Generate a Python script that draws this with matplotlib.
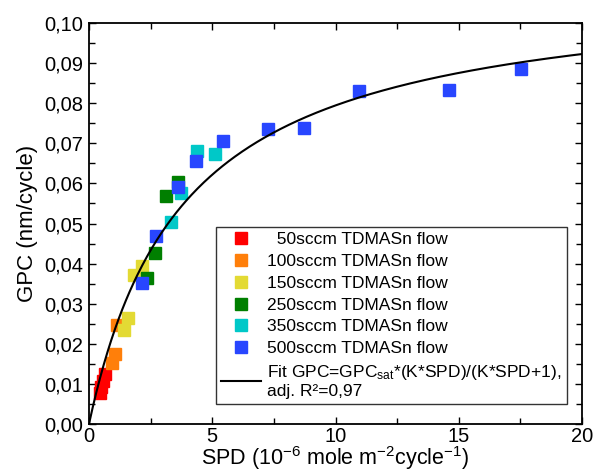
import numpy as np
import matplotlib
matplotlib.use("Agg")
import matplotlib.pyplot as plt
from matplotlib.ticker import MultipleLocator, FuncFormatter

plt.rcParams["font.family"] = ["Liberation Sans", "DejaVu Sans"]
plt.rcParams["mathtext.default"] = "regular"

# SPD (1e-6 mole m-2 cycle-1) and GPC (nm/cycle) for each TDMASn flow
spd_50 = [0.43, 0.47, 0.57, 0.65]
gpc_50 = [0.0077, 0.0092, 0.0107, 0.0125]
spd_100 = [0.93, 1.05, 1.14]
gpc_100 = [0.0152, 0.0175, 0.0247]
spd_150 = [1.42, 1.58, 1.83, 2.15]
gpc_150 = [0.0234, 0.0264, 0.0372, 0.0394]
spd_250 = [2.37, 2.68, 3.12, 3.62]
gpc_250 = [0.0363, 0.0426, 0.0569, 0.0604]
spd_350 = [3.31, 3.73, 4.39, 5.11]
gpc_350 = [0.0504, 0.0577, 0.0681, 0.0673]
spd_500 = [2.16, 2.72, 3.62, 4.34, 5.45, 7.27, 8.73, 10.95, 14.6, 17.51]
gpc_500 = [0.0351, 0.0469, 0.0590, 0.0656, 0.0706, 0.0736, 0.0739, 0.0830,
           0.0833, 0.0886]

labels = ["  50sccm TDMASn flow", "100sccm TDMASn flow", "150sccm TDMASn flow",
          "250sccm TDMASn flow", "350sccm TDMASn flow", "500sccm TDMASn flow"]
colors = ["#ff0000", "#ff7f0a", "#e3da34", "#007f00", "#00c8c8", "#2846ff"]

# Langmuir-type fit parameters
gpc_sat = 0.110
k_fit = 0.26

fig = plt.figure(figsize=(5.94, 4.75), dpi=100)
ax = fig.add_axes([89 / 594, 51 / 475, 493 / 594, 401 / 475])

series = [(spd_50, gpc_50), (spd_100, gpc_100), (spd_150, gpc_150),
          (spd_250, gpc_250), (spd_350, gpc_350), (spd_500, gpc_500)]
for (xs, ys), lab, c in zip(series, labels, colors):
    ax.plot(xs, ys, "s", ms=8.6, color=c, mec=c, label=lab, zorder=3)

xf = np.linspace(0, 20, 400)
ax.plot(xf, gpc_sat * (k_fit * xf) / (k_fit * xf + 1), "k-", lw=1.5,
        label="Fit GPC=GPC$_{sat}$*(K*SPD)/(K*SPD+1),\nadj. R\u00b2=0,97",
        zorder=4)

ax.set_xlim(0, 20)
ax.set_ylim(0, 0.10)
ax.xaxis.set_major_locator(MultipleLocator(5))
ax.xaxis.set_minor_locator(MultipleLocator(2.5))
ax.yaxis.set_major_locator(MultipleLocator(0.01))
ax.yaxis.set_minor_locator(MultipleLocator(0.005))
ax.yaxis.set_major_formatter(FuncFormatter(lambda v, p: f"{v:.2f}".replace(".", ",")))
ax.tick_params(which="both", direction="in", top=True, right=True, width=1,
               labelsize=14.5)
ax.tick_params(which="major", length=5, pad=4)
ax.tick_params(which="minor", length=4)
ax.tick_params(axis="x", pad=2)
for s in ax.spines.values():
    s.set_linewidth(1.3)

ax.set_xlabel("SPD (10$^{-6}$ mole m$^{-2}$cycle$^{-1}$)", fontsize=15.5, labelpad=-1)
ax.set_ylabel("GPC (nm/cycle)", fontsize=16, labelpad=5)

leg = ax.legend(loc="upper left", bbox_to_anchor=(127 / 493, 197 / 401),
                fontsize=12.5, frameon=True, fancybox=False, edgecolor="black",
                handlelength=2.3, handletextpad=0.35, borderpad=0.3,
                labelspacing=0.38, borderaxespad=0)
leg.get_frame().set_linewidth(1.0)

fig.savefig("out.png", dpi=100)
